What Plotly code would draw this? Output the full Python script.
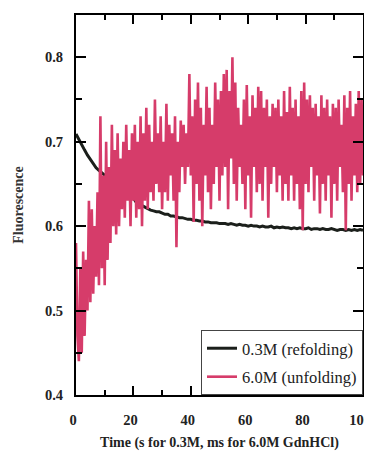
import plotly.graph_objects as go

# Refolding (0.3M GdnHCl), sampled every 1 s
refold_t = list(range(0, 101))
refold_y = [
    0.709, 0.702, 0.696, 0.690, 0.684, 0.679, 0.673, 0.669, 0.666, 0.663,
    0.660, 0.657, 0.654, 0.651, 0.648, 0.645, 0.643, 0.640, 0.638, 0.639,
    0.633, 0.628, 0.626, 0.624, 0.622, 0.621, 0.619, 0.618, 0.617, 0.617,
    0.615, 0.614, 0.614, 0.612, 0.612, 0.611, 0.610, 0.610, 0.609, 0.608,
    0.608, 0.607, 0.607, 0.606, 0.606, 0.605, 0.605, 0.604, 0.604, 0.604,
    0.603, 0.603, 0.603, 0.602, 0.603, 0.602, 0.601, 0.602, 0.601, 0.601,
    0.600, 0.601, 0.600, 0.600, 0.599, 0.600, 0.599, 0.599, 0.600, 0.598,
    0.599, 0.598, 0.599, 0.598, 0.598, 0.597, 0.598, 0.597, 0.598, 0.597,
    0.597, 0.598, 0.596, 0.597, 0.597, 0.596, 0.597, 0.596, 0.596, 0.597,
    0.596, 0.595, 0.596, 0.596, 0.595, 0.596, 0.595, 0.596, 0.595, 0.596,
    0.595,
]

# Unfolding (6.0M GdnHCl), sampled every 0.5 ms
unfold_y = [
    0.58, 0.47, 0.44, 0.55, 0.45, 0.57, 0.47, 0.56, 0.50, 0.63,
    0.51, 0.62, 0.52, 0.60, 0.54, 0.64, 0.53, 0.73, 0.55, 0.66,
    0.53, 0.70, 0.56, 0.67, 0.58, 0.72, 0.60, 0.69, 0.59, 0.71,
    0.60, 0.68, 0.62, 0.70, 0.61, 0.72, 0.63, 0.69, 0.60, 0.71,
    0.63, 0.72, 0.61, 0.70, 0.62, 0.73, 0.60, 0.71, 0.63, 0.74,
    0.62, 0.72, 0.64, 0.70, 0.63, 0.75, 0.65, 0.71, 0.64, 0.73,
    0.62, 0.70, 0.64, 0.745, 0.63, 0.72, 0.66, 0.71, 0.63, 0.73,
    0.575, 0.70, 0.64, 0.725, 0.67, 0.72, 0.65, 0.71, 0.67, 0.78,
    0.66, 0.73, 0.605, 0.75, 0.65, 0.77, 0.63, 0.74, 0.60, 0.72,
    0.66, 0.765, 0.64, 0.74, 0.62, 0.72, 0.65, 0.77, 0.67, 0.75,
    0.63, 0.76, 0.66, 0.78, 0.67, 0.785, 0.62, 0.76, 0.68, 0.80,
    0.65, 0.77, 0.63, 0.74, 0.67, 0.72, 0.65, 0.75, 0.62, 0.767,
    0.66, 0.73, 0.61, 0.755, 0.67, 0.74, 0.64, 0.765, 0.65, 0.76,
    0.63, 0.74, 0.67, 0.75, 0.61, 0.73, 0.65, 0.745, 0.67, 0.74,
    0.64, 0.75, 0.66, 0.73, 0.63, 0.76, 0.65, 0.735, 0.63, 0.765,
    0.66, 0.74, 0.63, 0.75, 0.65, 0.73, 0.62, 0.76, 0.595, 0.77,
    0.65, 0.75, 0.64, 0.755, 0.67, 0.74, 0.63, 0.745, 0.66, 0.73,
    0.615, 0.755, 0.65, 0.74, 0.63, 0.75, 0.66, 0.73, 0.61, 0.745,
    0.65, 0.74, 0.63, 0.75, 0.67, 0.72, 0.64, 0.755, 0.595, 0.74,
    0.65, 0.76, 0.63, 0.73, 0.66, 0.745, 0.64, 0.76, 0.65, 0.75,
    0.66,
]
unfold_t = [i * 0.5 for i in range(len(unfold_y))]

series_names = ["0.3M (refolding)", "6.0M (unfolding)"]
x_ticks = [0, 20, 40, 60, 80, 100]
y_ticks = [0.4, 0.5, 0.6, 0.7, 0.8]

BLACK = "#1b1f1b"
PINK = "#d63c6a"
SERIF = "Liberation Serif"

fig = go.Figure()
fig.add_trace(go.Scatter(x=refold_t, y=refold_y, mode="lines", name=series_names[0],
                         legendgroup="a", line=dict(color=BLACK, width=3)))
fig.add_trace(go.Scatter(x=unfold_t, y=unfold_y, mode="lines", name=series_names[1],
                         legendgroup="b", line=dict(color=PINK, width=2.6)))

axis_common = dict(
    showline=True, linecolor="black", linewidth=2, mirror="ticks",
    ticks="inside", tickcolor="black", tickwidth=1.5,
    showgrid=False, zeroline=False, automargin=False,
    ticklabeloverflow="allow",
    tickfont=dict(family=SERIF, size=14.5, color="#222", weight="bold"),
)

fig.update_xaxes(
    range=[0, 100], tickvals=x_ticks, ticklen=9,
    minor=dict(ticks="inside", dtick=10, ticklen=5, tickcolor="black", tickwidth=1.5),
    ticklabelstandoff=11, ticklabelshift=-3,
    title=dict(text="Time (s for 0.3M, ms for 6.0M GdnHCl)",
               font=dict(family=SERIF, size=14, color="#222", weight="bold"), standoff=10),
    **axis_common,
)
fig.update_yaxes(
    range=[0.4, 0.85], tickvals=y_ticks, tickformat=".1f", ticklen=10,
    minor=dict(ticks="inside", dtick=0.05, ticklen=6, tickcolor="black", tickwidth=1.5),
    ticklabelstandoff=8,
    title=dict(text="Fluorescence",
               font=dict(family=SERIF, size=14, color="#333", weight="bold"), standoff=18),
    **axis_common,
)

# The page body adds an 8 px offset, so the figure is sized to the visible area.
fig.update_layout(
    width=364, height=444,
    margin=dict(l=68, r=9, t=7, b=57),
    paper_bgcolor="white", plot_bgcolor="white",
    showlegend=True,
    legend=dict(
        x=1, y=0, xanchor="right", yanchor="bottom",
        bgcolor="white", bordercolor="#444", borderwidth=1,
        font=dict(family=SERIF, size=16.5, color="#222"),
        itemwidth=30, traceorder="grouped", tracegroupgap=4,
    ),
)

fig.write_html("out.html")
